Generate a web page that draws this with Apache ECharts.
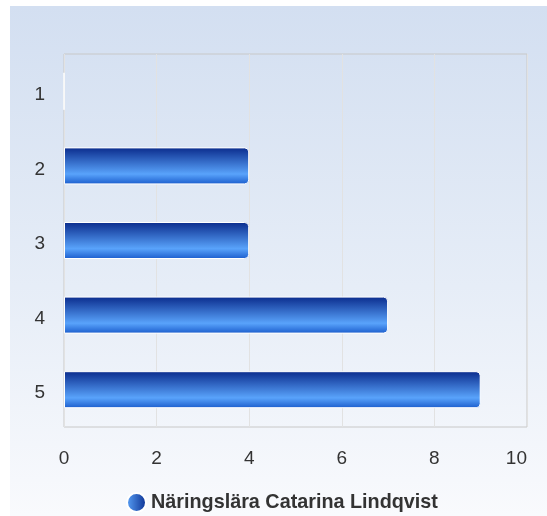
<!DOCTYPE html>
<html>
<head>
    <meta charset="utf-8">
    <script src="https://cdn.jsdelivr.net/npm/echarts@6/dist/echarts.min.js"></script>
    <style type="text/css">
        html, body { width: 100%; height: 100%; margin: 0; background: #fff; }
        #bg {
            position: absolute; left: 10px; top: 6px; right: 0; bottom: 0;
            background: linear-gradient(to bottom, #d3dff1 0%, #e6edf7 55%, #f9fafd 100%);
        }
        #chart { position: absolute; left: 0; top: 0; width: 547px; height: 516px; }
    </style>
</head>
<body>
<div id="bg"></div>
<div id="chart"></div>
<script type="text/javascript">
    // data
    var categories = ['1', '2', '3', '4', '5'];
    var seriesName = 'Näringslära Catarina Lindqvist';
    var values = [0, 4, 4, 7, 9];
    var xTicks = [0, 2, 4, 6, 8, 10];

    var font = 'Arial, "Liberation Sans", sans-serif';
    var barColor = new echarts.graphic.LinearGradient(0, 0, 0, 1, [
        { offset: 0, color: '#0a2b8c' },
        { offset: 0.72, color: '#59a3fb' },
        { offset: 1, color: '#1a5ccc' }
    ]);
    var legendColor = new echarts.graphic.LinearGradient(0, 0, 1, 0, [
        { offset: 0, color: '#5aa2f8' },
        { offset: 1, color: '#0a2e90' }
    ]);

    var myChart = echarts.init(document.getElementById('chart'));
    myChart.setOption({
        backgroundColor: 'transparent',
        animation: false,
        grid: {
            left: 64, right: 20, top: 54, bottom: 89,
            show: true, borderColor: '#c8c8c8', borderWidth: 1,
            backgroundColor: 'transparent'
        },
        legend: {
            bottom: -2,
            left: 121,
            icon: 'circle',
            itemWidth: 19, itemHeight: 19, itemGap: 6,
            itemStyle: { color: legendColor },
            textStyle: { fontSize: 19.8, fontWeight: 'bold', color: '#333', fontFamily: font },
            data: [seriesName]
        },
        xAxis: {
            type: 'value',
            min: xTicks[0], max: xTicks[xTicks.length - 1], interval: 2,
            axisLine: { show: false },
            axisTick: { show: false },
            axisLabel: { fontSize: 19, color: '#333', margin: 22, fontFamily: font, alignMaxLabel: 'right' },
            splitLine: { lineStyle: { color: '#e2e2e2' } }
        },
        yAxis: {
            type: 'category',
            inverse: true,
            data: categories,
            axisLine: { show: false },
            axisTick: { show: false },
            axisLabel: {
                margin: 19,
                formatter: '{c|{value}}',
                rich: { c: { fontSize: 19, color: '#333', fontFamily: font, padding: [7, 0, 0, 0] } }
            },
            splitLine: { show: false }
        },
        series: [{
            name: seriesName,
            type: 'bar',
            data: values,
            barWidth: 37,
            itemStyle: {
                color: barColor,
                borderColor: '#ffffff',
                borderWidth: 1,
                borderRadius: [0, 4, 4, 0]
            }
        }]
    });
</script>
</body>
</html>
